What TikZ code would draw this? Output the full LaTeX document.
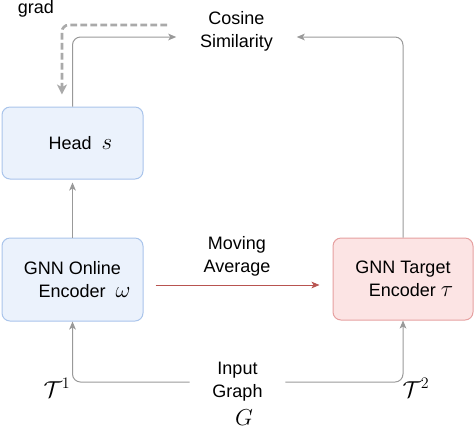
\documentclass[tikz,border=0pt]{standalone}
\usepackage{fontspec}
\setmainfont{Liberation Sans}
\usetikzlibrary{arrows.meta}
\definecolor{lgray}{HTML}{999999}
\definecolor{dgray}{HTML}{AAAAAA}
\definecolor{bfill}{HTML}{EBF2FC}
\definecolor{bline}{HTML}{A9C4EB}
\definecolor{rfill}{HTML}{FCE4E4}
\definecolor{rline}{HTML}{E6A0A0}
\definecolor{rarrow}{HTML}{B85450}
\newcommand{\boxmath}[1]{{\fontsize{16.5}{17}\selectfont$#1$}}
\tikzset{
  box/.style={draw, line width=0.75pt, rounded corners=6pt, align=center, inner sep=0pt},
  bluebox/.style={box, draw=bline, fill=bfill},
  redbox/.style={box, draw=rline, fill=rfill},
  conn/.style={draw=lgray, line width=0.75pt, rounded corners=6pt, -{Stealth[length=6pt,width=5pt,inset=1.5pt]}},
  redconn/.style={draw=rarrow, line width=0.75pt, -{Stealth[length=6pt,width=5pt,inset=1.5pt]}},
  gradconn/.style={draw=dgray, line width=2pt, dash pattern=on 5pt off 2.5pt, rounded corners=5pt, -{Stealth[length=7.5pt,width=7.5pt,inset=2pt]}},
  lbl/.style={align=center, inner sep=0pt},
  mth/.style={inner sep=0pt, font=\fontsize{17}{18}\selectfont},
}
\begin{document}
\begin{tikzpicture}[x=0.75pt, y=-0.75pt, font=\fontsize{13.5}{17.4}\selectfont]
\useasboundingbox (0,0) rectangle (474,430);
% boxes
\node[bluebox, minimum width=105.75pt, minimum height=54pt] (head) at (72.5,143) {\hspace*{12pt}Head~~\boxmath{s}};
\node[bluebox, minimum width=105.75pt, minimum height=62.25pt] (online) at (72.5,279.5) {GNN Online\\\hspace*{18pt}Encoder~~\boxmath{\omega}};
\node[redbox, minimum width=105pt, minimum height=61.5pt] (target) at (403,279) {GNN Target\\\hspace*{12pt}Encoder~\boxmath{\tau}};
% labels
\node[lbl, minimum width=90pt, minimum height=30pt] (cos) at (236.5,31) {Cosine\\Similarity};
\node[lbl] (mov) at (237,256) {Moving\\Average};
\node[lbl, minimum width=71.25pt] (input) at (237.5,382) {Input\\Graph};
\node[mth] (g) at (244,418) {$G$};
\node[mth] (t1) at (57,388) {$\mathcal{T}^1$};
\node[mth] (t2) at (416,388) {$\mathcal{T}^2$};
\node[lbl] (grad) at (36,9) {grad};
\coordinate (gs) at (167,25);
% connectors
\draw[conn, shorten >=2.25pt] (online.north) -- (head.south);
\draw[conn] (head.north) |- ([yshift=-4.5pt]cos.west);
\draw[conn] (target.north) |- ([yshift=-4.5pt]cos.east);
\draw[redconn, shorten <=9pt, shorten >=9.75pt] (online.east |- 0,285) -- (target.west |- 0,285);
\draw[conn] (input.west) -| (online.south);
\draw[conn] (input.east) -| (target.south);
\draw[gradconn, shorten >=9pt] (gs) -| ([xshift=-7.9pt]head.north);
\end{tikzpicture}
\end{document}
